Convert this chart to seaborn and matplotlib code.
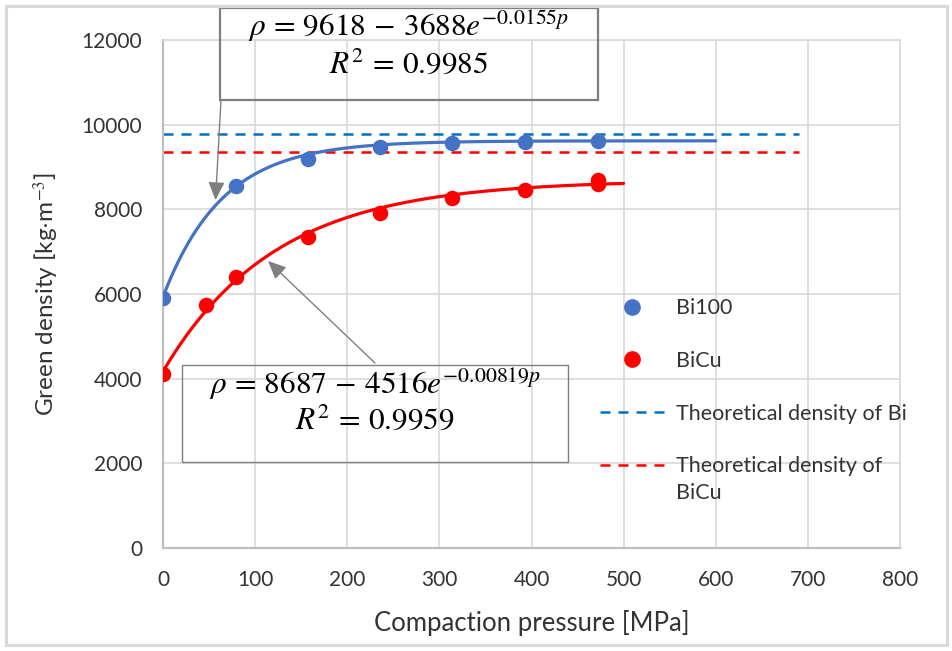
"""
Green density vs compaction pressure for Bi100 and BiCu powders,
with exponential fits and theoretical densities. Run: python plot.py
"""
import matplotlib
matplotlib.use("Agg")
import matplotlib.pyplot as plt
from matplotlib.lines import Line2D
from matplotlib.patches import Rectangle
import numpy as np
import seaborn as sns

sns.set_theme(style="white")
plt.rcParams["font.family"] = ["Lato", "DejaVu Sans"]
plt.rcParams["mathtext.fontset"] = "stix"

# measured green densities [kg/m3] vs compaction pressure [MPa]
bi_p = [0, 79, 157, 236, 314, 393, 472]
bi_rho = [5900, 8550, 9190, 9470, 9560, 9590, 9610]
bicu_p = [0, 47, 79, 157, 236, 314, 393, 472, 472]
bicu_rho = [4110, 5740, 6390, 7350, 7910, 8270, 8460, 8610, 8690]

# exponential fits shown on the chart: rho = a - b * exp(-k * p)
bi_fit = [9618, 3688, 0.0155]
bicu_fit = [8687, 4516, 0.00819]
bi_r2 = 0.9985
bicu_r2 = 0.9959
bi_fit_end = 600
bicu_fit_end = 500

# theoretical densities
rho_th_bi = 9780
rho_th_bicu = 9350
th_end = 690

BLUE = "#4472C4"
RED = "#FF0000"
TH_BLUE = "#0070C0"
GRID = "#D9D9D9"
TXT = "#333333"
BOX = "#7F7F7F"

W, H = 953, 651
fig = plt.figure(figsize=(W / 100, H / 100), dpi=100)
ax = fig.add_axes([163 / W, 103 / H, 737 / W, 508 / H])

# theoretical density lines
dash = (0, (4, 3.2))
sns.lineplot(x=[0, th_end], y=[rho_th_bi] * 2, color=TH_BLUE, lw=1.8, linestyle=dash, ax=ax, zorder=2)
sns.lineplot(x=[0, th_end], y=[rho_th_bicu] * 2, color=RED, lw=1.8, linestyle=dash, ax=ax, zorder=2)

# fitted curves
for fit, end, col in [(bi_fit, bi_fit_end, BLUE), (bicu_fit, bicu_fit_end, RED)]:
    a, b, k = fit
    p = np.linspace(0, end, 300)
    sns.lineplot(x=p, y=a - b * np.exp(-k * p), color=col, lw=2.3, ax=ax, zorder=3)

# measured points
sns.scatterplot(x=bi_p, y=bi_rho, color=BLUE, s=125, linewidth=0, ax=ax, zorder=4)
sns.scatterplot(x=bicu_p, y=bicu_rho, color=RED, s=125, linewidth=0, ax=ax, zorder=4)

ax.set_xlim(0, 800)
ax.set_ylim(0, 12000)
ax.set_xticks(range(0, 801, 100))
ax.set_yticks(range(0, 12001, 2000))
ax.grid(True, color=GRID, lw=1.2)
ax.set_axisbelow(True)
for side in ["top", "right"]:
    ax.spines[side].set_color(GRID)
    ax.spines[side].set_linewidth(1.2)
for side in ["left", "bottom"]:
    ax.spines[side].set_color("#BFBFBF")
    ax.spines[side].set_linewidth(1.6)
ax.tick_params(axis="both", length=0, labelsize=15, labelcolor=TXT)
ax.tick_params(axis="x", pad=16)
ax.tick_params(axis="y", pad=15)
ax.set_xlabel("Compaction pressure [MPa]", fontsize=18.5, color=TXT, labelpad=14)
ax.set_ylabel(r"Green density [kg$\cdot$m$^{-3}$]", fontsize=17.5, color=TXT, labelpad=15)

# legend (fit curves not listed)
handles = [
    Line2D([], [], marker="o", ls="", color=BLUE, markersize=11),
    Line2D([], [], marker="o", ls="", color=RED, markersize=11),
    Line2D([], [], color=TH_BLUE, lw=1.8, linestyle=dash),
    Line2D([], [], color=RED, lw=1.8, linestyle=dash),
]
labels = ["Bi100", "BiCu", "Theoretical density of Bi", "Theoretical density of"]
leg = ax.legend(handles, labels, loc="upper left", bbox_to_anchor=(0.593, 0.492),
                frameon=False, fontsize=15.5, labelspacing=1.52, handlelength=3.0,
                handletextpad=0.55, borderpad=0, borderaxespad=0)
for t in leg.get_texts():
    t.set_color(TXT)

# second line of the last legend label, placed under the first line
fig.canvas.draw()
bb = leg.get_texts()[-1].get_window_extent()
fig.text(bb.x0, bb.y0 - 27, "BiCu", fontsize=15.5, color=TXT,
         transform=None, ha="left", va="bottom")

# equation boxes
def eq_box(x0, y0, x1, y1, lw, fit, r2, y_l1, y_l2):
    fig.add_artist(Rectangle((x0 / W, 1 - y1 / H), (x1 - x0) / W, (y1 - y0) / H,
                             transform=fig.transFigure, fill=False, ec=BOX, lw=lw))
    a, b, k = fit
    xc = (x0 + x1) / 2 / W
    fig.text(xc, 1 - y_l1 / H, rf"$\rho\,=\,{a}\,-\,{b}e^{{-{k}p}}$",
             ha="center", va="center", fontsize=22.5, color="black")
    fig.text(xc, 1 - y_l2 / H, rf"$R^2\,=\,{r2}$",
             ha="center", va="center", fontsize=22.5, color="black")

eq_box(220, 8, 598, 100, 1.6, bi_fit, bi_r2, 27, 63)
eq_box(182, 365, 568, 462, 1.0, bicu_fit, bicu_r2, 385, 419)

arrow = dict(arrowstyle="-|>,head_length=0.55,head_width=0.25", color=BOX, lw=1,
             shrinkA=0, shrinkB=0, mutation_scale=20)
ax.annotate("", xy=(57, 8220), xycoords="data", xytext=(221, H - 100),
            textcoords="figure pixels", arrowprops=arrow)
ax.annotate("", xy=(114, 6780), xycoords="data", xytext=(375, H - 363),
            textcoords="figure pixels", arrowprops=arrow)

# outer chart frame
fig.add_artist(Rectangle((6 / W, 6 / H), (W - 12) / W, (H - 12) / H,
                         transform=fig.transFigure, fill=False, ec=GRID, lw=2.2))

fig.savefig("out.png", dpi=100)
